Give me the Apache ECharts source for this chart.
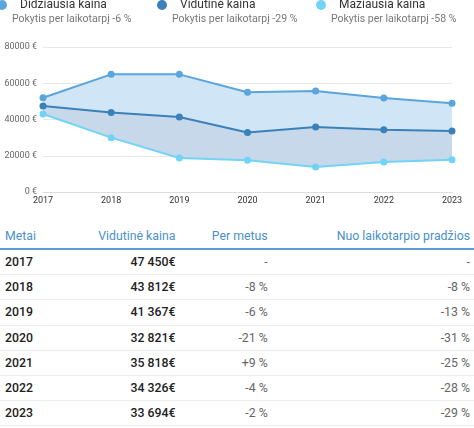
<!DOCTYPE html>
<html>
<head>
<meta charset="utf-8">
<script src="https://cdn.jsdelivr.net/npm/echarts@6/dist/echarts.min.js"></script>
<style>
  html, body { margin:0; padding:0; background:#fff; width:474px; height:428px; overflow:hidden; font-family: Roboto, "Noto Sans", sans-serif; }
  #chart { position:absolute; left:0; top:0; width:474px; height:215px; }
  #tbl { position:absolute; left:0; top:223px; width:474px; border-collapse:collapse; font-size:12.3px; }
  #tbl th { color:#4a8fc9; font-weight:400; height:25px; padding:0 4px 0 5px; border-bottom:2px solid #5b9bd5; }
  #tbl td { height:24.2px; padding:0 4px 0 5px; border-bottom:1px solid #ececec; }
  #tbl td.y, #tbl td.v { color:#222; font-weight:500; }
  #tbl td.p { color:#666; }
  .l { text-align:left; } .r { text-align:right; }
</style>
</head>
<body>
<div id="chart"></div>
<table id="tbl"><thead></thead><tbody></tbody></table>
<script>
const years = ['2017','2018','2019','2020','2021','2022','2023'];
const maxPrice = [52000, 64900, 64900, 55000, 55700, 51900, 48900];
const avgPrice = [47450, 43812, 41367, 32821, 35818, 34326, 33694];
const minPrice = [43000, 30000, 18800, 17500, 13800, 16600, 17800];
const seriesNames = ['Didžiausia kaina', 'Vidutinė kaina', 'Mažiausia kaina'];
const seriesChanges = ['Pokytis per laikotarpį -6 %', 'Pokytis per laikotarpį -29 %', 'Pokytis per laikotarpį -58 %'];
const seriesColors = ['#5aa5dc', '#3b80b9', '#72d4f5'];
const tableHeaders = ['Metai', 'Vidutinė kaina', 'Per metus', 'Nuo laikotarpio pradžios'];
const avgLabels = ['47 450€', '43 812€', '41 367€', '32 821€', '35 818€', '34 326€', '33 694€'];
const yearChange = ['-', '-8 %', '-6 %', '-21 %', '+9 %', '-4 %', '-2 %'];
const totalChange = ['-', '-8 %', '-13 %', '-31 %', '-25 %', '-28 %', '-29 %'];

const lowBand = avgPrice.map((v, i) => v - minPrice[i]);
const highBand = maxPrice.map((v, i) => v - avgPrice[i]);

const chart = echarts.init(document.getElementById('chart'), null, { renderer: 'canvas' });

const legendX = [2, 162, 321];
const graphic = [];
seriesNames.forEach((n, i) => {
  const x = legendX[i];
  graphic.push({ type:'circle', shape:{ cx:x, cy:5, r:5 }, style:{ fill:seriesColors[i] }, silent:true });
  graphic.push({ type:'text', x:x + 18, y:5, style:{ text:n, fill:'#333', font:'12px Roboto', textVerticalAlign:'middle' }, silent:true });
  graphic.push({ type:'text', x:x + 10, y:19, style:{ text:seriesChanges[i], fill:'#777', font:'10.5px Roboto', textVerticalAlign:'middle' }, silent:true });
});

const lineBase = (name, data, color) => ({
  name, type:'line', data, symbol:'circle', symbolSize:7, z:5,
  lineStyle:{ color, width:2 }, itemStyle:{ color }, emphasis:{ disabled:true }
});

chart.setOption({
  animation:false,
  graphic,
  grid:{ left:43, right:22, top:47, bottom:23 },
  xAxis:{
    type:'category', data:years, boundaryGap:false,
    axisTick:{ show:false },
    axisLine:{ lineStyle:{ color:'#dddddd' } },
    axisLabel:{ color:'#333', fontSize:9, fontFamily:'Roboto', margin:4 }
  },
  yAxis:{
    type:'value', min:0, max:80000, interval:20000,
    axisLabel:{ formatter:(v) => String(v) + ' €', color:'#666', fontSize:9, fontFamily:'Roboto', margin:6 },
    splitLine:{ lineStyle:{ color:'#e8e8e8' } },
    axisLine:{ show:false }, axisTick:{ show:false }
  },
  series:[
    { type:'line', stack:'band', data:minPrice, symbol:'none', lineStyle:{ opacity:0 }, silent:true, z:1 },
    { type:'line', stack:'band', data:lowBand, symbol:'none', lineStyle:{ opacity:0 }, areaStyle:{ color:'#c6d8ea', opacity:1 }, silent:true, z:1 },
    { type:'line', stack:'band', data:highBand, symbol:'none', lineStyle:{ opacity:0 }, areaStyle:{ color:'#d0e5f6', opacity:1 }, silent:true, z:1 },
    lineBase(seriesNames[0], maxPrice, seriesColors[0]),
    lineBase(seriesNames[1], avgPrice, seriesColors[1]),
    lineBase(seriesNames[2], minPrice, seriesColors[2])
  ]
});

const thead = document.querySelector('#tbl thead');
const hr = document.createElement('tr');
tableHeaders.forEach((h, i) => {
  const th = document.createElement('th');
  th.textContent = h;
  th.className = i === 0 ? 'l' : 'r';
  hr.appendChild(th);
});
thead.appendChild(hr);
const tbody = document.querySelector('#tbl tbody');
years.forEach((y, i) => {
  const tr = document.createElement('tr');
  [[y,'y l'],[avgLabels[i],'v r'],[yearChange[i],'p r'],[totalChange[i],'p r']].forEach(([t, c]) => {
    const td = document.createElement('td'); td.textContent = t; td.className = c; tr.appendChild(td);
  });
  tbody.appendChild(tr);
});
</script>
</body>
</html>
